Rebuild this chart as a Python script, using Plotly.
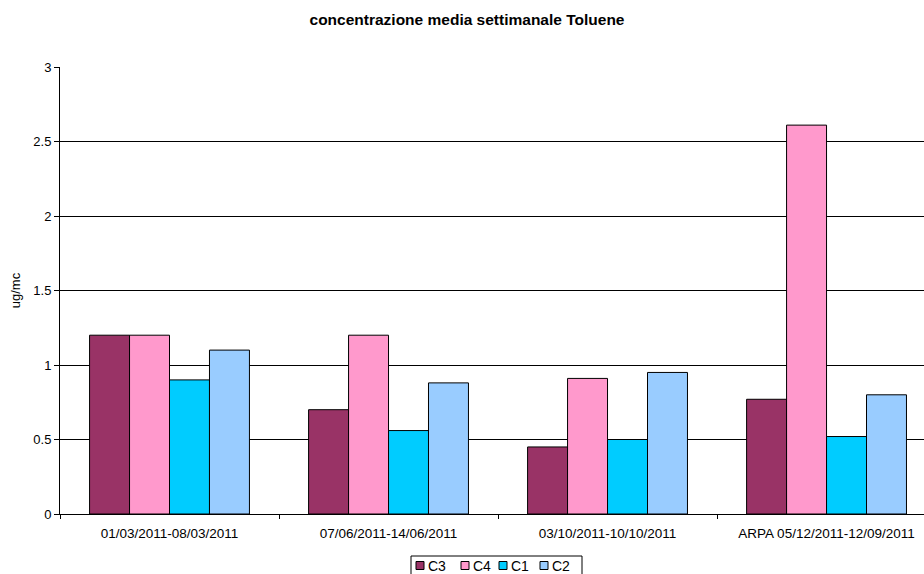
import plotly.graph_objects as go

# Weekly mean toluene concentration per sampling period and station
periods = [
    "01/03/2011-08/03/2011",
    "07/06/2011-14/06/2011",
    "03/10/2011-10/10/2011",
    "ARPA 05/12/2011-12/09/2011",
]
stations = ["C3", "C4", "C1", "C2"]
c3 = [1.2, 0.7, 0.45, 0.77]
c4 = [1.2, 1.2, 0.91, 2.61]
c1 = [0.9, 0.56, 0.5, 0.52]
c2 = [1.1, 0.88, 0.95, 0.8]
y_ticks = [0, 0.5, 1, 1.5, 2, 2.5, 3]
y_tick_text = ["0", "0.5", "1", "1.5", "2", "2.5", "3"]

colors = {"C3": "#993366", "C4": "#FF99CC", "C1": "#00CCFF", "C2": "#99CCFF"}
series = {"C3": c3, "C4": c4, "C1": c1, "C2": c2}

font = "Liberation Sans, Arial, sans-serif"
W, H = 924, 574
ML, MR, MT, MB = 60, 0, 67, 60
PW, PH = W - ML - MR, H - MT - MB


def px_x(px):
    return (px - ML) / PW


def px_y(py):
    return (H - MB - py) / PH


fig = go.Figure()
for name in stations:
    fig.add_trace(go.Bar(
        name=name,
        x=periods,
        y=series[name],
        marker=dict(color=colors[name], line=dict(color="#000000", width=1)),
        showlegend=False,
    ))

# Compact boxed legend below the plot
shapes = [dict(
    type="rect", xref="paper", yref="paper",
    x0=px_x(411), x1=px_x(582), y0=px_y(556), y1=px_y(590),
    line=dict(color="#000000", width=1), fillcolor="white", layer="above",
)]
annotations = []
legend_x = [416, 461, 499, 540]
for name, lx in zip(stations, legend_x):
    shapes.append(dict(
        type="rect", xref="paper", yref="paper",
        x0=px_x(lx), x1=px_x(lx + 8), y0=px_y(569.5), y1=px_y(561.5),
        line=dict(color="#000000", width=1), fillcolor=colors[name], layer="above",
    ))
    annotations.append(dict(
        text=name, xref="paper", yref="paper",
        x=px_x(lx + 10), y=px_y(566), xanchor="left", yanchor="middle",
        showarrow=False, font=dict(family=font, size=14, color="#000000"),
    ))

fig.update_layout(
    width=W,
    height=H,
    barmode="group",
    bargap=0.27,
    bargroupgap=0,
    paper_bgcolor="white",
    plot_bgcolor="white",
    margin=dict(l=ML, r=MR, t=MT, b=MB, autoexpand=False),
    font=dict(family=font, size=13, color="#000000"),
    title=dict(
        text="<b>concentrazione media settimanale Toluene</b>",
        x=467 / W, xref="container", xanchor="center",
        y=1 - 20 / H, yref="container", yanchor="middle",
        font=dict(family=font, size=15.5, color="#000000"),
    ),
    showlegend=False,
    shapes=shapes,
    annotations=annotations,
    xaxis=dict(
        type="category",
        range=[-0.5, 3.445],
        showline=True, linecolor="#000000", linewidth=1,
        ticks="outside", tickson="boundaries", ticklen=4, tickcolor="#000000",
        showgrid=False,
        ticklabelstandoff=7,
        tickfont=dict(family=font, size=13.5, color="#000000"),
    ),
    yaxis=dict(
        range=[0, 3],
        tickvals=y_ticks, ticktext=y_tick_text,
        showline=True, linecolor="#000000", linewidth=1,
        ticks="outside", ticklen=5, tickcolor="#000000",
        showgrid=True, gridcolor="#000000", gridwidth=1,
        zeroline=False,
        title=dict(text="ug/mc", font=dict(family=font, size=13, color="#000000"), standoff=9),
        tickfont=dict(family=font, size=13, color="#000000"),
    ),
)

fig.write_html("out.html")
